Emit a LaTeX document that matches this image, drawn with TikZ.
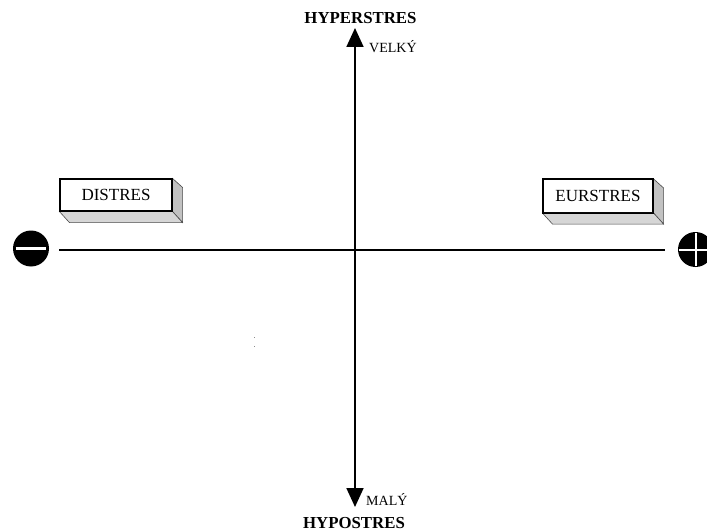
\documentclass[tikz,border=0pt]{standalone}
\usepackage{fontspec}
\setmainfont{Liberation Serif}
\usetikzlibrary{arrows.meta}
\tikzset{
  axis/.style={line width=1.8pt, {Triangle[length=19pt,width=17pt]}-{Triangle[length=19pt,width=17pt]}},
  haxis/.style={line width=1.8pt},
  stressbox/.style={draw=black, line width=1.1pt, fill=white, inner sep=0pt, font=\fontsize{17}{19}\selectfont},
  sideface/.style={fill=black!24, draw=black!70, line width=0.6pt},
  bottomface/.style={fill=black!16, draw=black!70, line width=0.6pt},
  bigtitle/.style={font=\bfseries\fontsize{16.8}{19}\selectfont, inner sep=0pt},
  smalllabel/.style={font=\fontsize{14}{16}\selectfont, inner sep=0pt},
  signdisc/.style={fill=black},
  signbar/.style={draw=white, line width=2.4pt}
}
\begin{document}
\begin{tikzpicture}[x=1pt,y=-1pt]
\useasboundingbox (0,0) rectangle (707,532);
\clip (0,0) rectangle (707,532);
\fill[white] (0,0) rectangle (707,532);

% axes
\coordinate (top) at (355,28);
\coordinate (bot) at (355,507);
\coordinate (lft) at (59,250);
\coordinate (rgt) at (665,250);
\draw[axis] (bot) -- (top);
\draw[haxis] (lft) -- (rgt);

% axis labels
\node[bigtitle] (hyper) at (360.5,18) {HYPERSTRES};
\node[bigtitle] (hypo) at (354,523) {HYPOSTRES};
\node[smalllabel, anchor=base west] (velky) at (369,53) {VELKÝ};
\node[smalllabel, anchor=base west] (maly) at (366,505) {MALÝ};

% 3D boxes
\node[stressbox, minimum width=112pt, minimum height=32pt] (dis) at (116,195) {DISTRES};
\node[stressbox, minimum width=110pt, minimum height=33pt] (eur) at (598,196) {EURSTRES};
\foreach \b in {dis,eur}{
  \draw[sideface] (\b.north east) -- ([shift={(10,9)}]\b.north east) -- ([shift={(10,11)}]\b.south east) -- (\b.south east) -- cycle;
  \draw[bottomface] (\b.south west) -- ([shift={(10,11)}]\b.south west) -- ([shift={(10,11)}]\b.south east) -- (\b.south east) -- cycle;
  \draw[line width=1.1pt] (\b.north west) rectangle (\b.south east);
}

% minus sign
\node[signdisc, circle, minimum size=36pt, inner sep=0pt] (minus) at (31,248.5) {};
\draw[signbar] ([xshift=3pt]minus.west) -- ([xshift=-3pt]minus.east);

% plus sign
\node[signdisc, circle, minimum size=35pt, inner sep=0pt] (plus) at (695.5,249.5) {};
\draw[signbar, line width=2pt] ([xshift=1.5pt]plus.west) -- ([xshift=-1.5pt]plus.east);
\draw[signbar, line width=2pt] ([yshift=-1.5pt]plus.north) -- ([yshift=1.5pt]plus.south);

% tiny specks
\fill[black!45] (253.5,336.5) rectangle (255,338);
\fill[black!45] (253.5,345.5) rectangle (255,347);
\end{tikzpicture}
\end{document}
